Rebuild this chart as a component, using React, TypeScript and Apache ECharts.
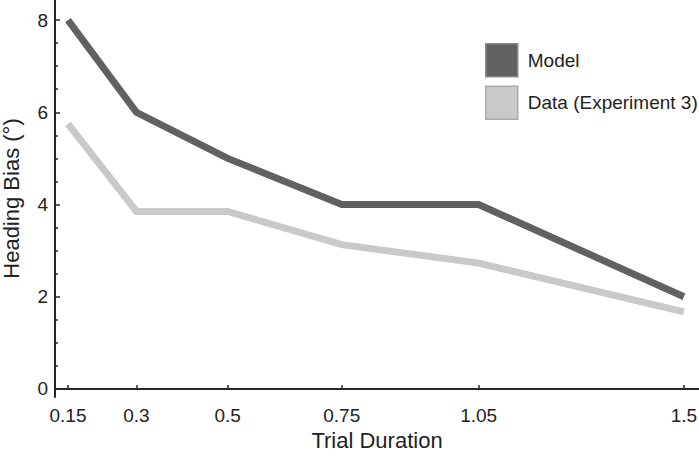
import React, { useEffect, useRef } from "react";
import * as echarts from "echarts";

const xValues = [0.15, 0.3, 0.5, 0.75, 1.05, 1.5];
const modelValues = [8.0, 6.0, 5.0, 4.0, 4.0, 2.0];
const dataValues = [5.75, 3.85, 3.85, 3.13, 2.73, 1.67];
const yMajorTicks = [0, 2, 4, 6, 8];
const yMinorTicks = [0.5, 1, 1.5, 2.5, 3, 3.5, 4.5, 5, 5.5, 6.5, 7, 7.5];
const seriesNames = ["Model", "Data (Experiment 3)"];

const FONT = '"Liberation Sans", Arial, Helvetica, sans-serif';
const MODEL_COLOR = "#616161";
const DATA_COLOR = "#c9c9c9";
const AXIS_COLOR = "#262626";

export default function App() {
  const ref = useRef<HTMLDivElement>(null);
  useEffect(() => {
    if (!ref.current) return;
    const chart = echarts.init(ref.current, undefined, { renderer: "svg" });
    const pairs = (ys: number[]) => xValues.map((x, i) => [x, ys[i]]);
    chart.setOption({
      animation: false,
      backgroundColor: "#ffffff",
      textStyle: { fontFamily: FONT },
      grid: {
        left: 55,
        right: 0,
        top: 0,
        bottom: 59,
        containLabel: false,
        outerBoundsMode: "none",
      },
      legend: {
        orient: "vertical",
        left: 480,
        top: 38,
        itemWidth: 32,
        itemHeight: 33,
        itemGap: 8,
        icon: "rect",
        textStyle: {
          fontFamily: FONT,
          fontSize: 19,
          color: "#222",
          padding: [0, 0, 0, 5],
        },
        data: [
          {
            name: seriesNames[0],
            itemStyle: { color: MODEL_COLOR, borderColor: "#8a8a8a", borderWidth: 1.5 },
          },
          {
            name: seriesNames[1],
            itemStyle: { color: DATA_COLOR, borderColor: "#ababab", borderWidth: 1.5 },
          },
        ],
      },
      xAxis: {
        type: "value",
        min: 0.1215,
        max: 1.533,
        name: "Trial Duration",
        nameLocation: "middle",
        nameGap: 32,
        nameTextStyle: { fontFamily: FONT, fontSize: 22, color: "#222" },
        axisLine: { show: true, lineStyle: { color: AXIS_COLOR, width: 2 } },
        axisTick: {
          show: true,
          inside: true,
          length: 4,
          customValues: xValues,
          lineStyle: { color: AXIS_COLOR, width: 1.5 },
        },
        axisLabel: {
          customValues: xValues,
          fontFamily: FONT,
          fontSize: 19,
          color: "#222",
          margin: 9,
          formatter: (v: number) => String(v),
        },
        splitLine: { show: false },
      },
      yAxis: [
        {
          type: "value",
          min: -0.174,
          max: 8.435,
          name: "Heading Bias (°)",
          nameLocation: "middle",
          nameGap: 33,
          nameTextStyle: { fontFamily: FONT, fontSize: 22, color: "#222" },
          axisLine: { show: true, lineStyle: { color: AXIS_COLOR, width: 2 } },
          axisTick: {
            show: true,
            inside: true,
            length: 5,
            customValues: yMajorTicks,
            lineStyle: { color: AXIS_COLOR, width: 1.5 },
          },
          axisLabel: {
            customValues: yMajorTicks,
            fontFamily: FONT,
            fontSize: 19,
            color: "#222",
            margin: 7,
          },
          splitLine: { show: false },
        },
        {
          type: "value",
          position: "left",
          min: -0.174,
          max: 8.435,
          axisLine: { show: false },
          axisTick: {
            show: true,
            inside: true,
            length: 3,
            customValues: yMinorTicks,
            lineStyle: { color: AXIS_COLOR, width: 1.5 },
          },
          axisLabel: { show: false },
          splitLine: { show: false },
        },
      ],
      series: [
        {
          name: seriesNames[0],
          type: "line",
          data: pairs(modelValues),
          showSymbol: false,
          symbol: "none",
          color: MODEL_COLOR,
          lineStyle: { color: MODEL_COLOR, width: 7, cap: "butt", join: "miter" },
          z: 3,
        },
        {
          name: seriesNames[1],
          type: "line",
          data: pairs(dataValues),
          showSymbol: false,
          symbol: "none",
          color: DATA_COLOR,
          lineStyle: { color: DATA_COLOR, width: 7, cap: "butt", join: "miter" },
          z: 2,
        },
      ],
    });
    return () => chart.dispose();
  }, []);
  return (
    <div
      ref={ref}
      style={{ position: "absolute", left: 0, top: 0, width: 699, height: 456, background: "#fff" }}
    />
  );
}
